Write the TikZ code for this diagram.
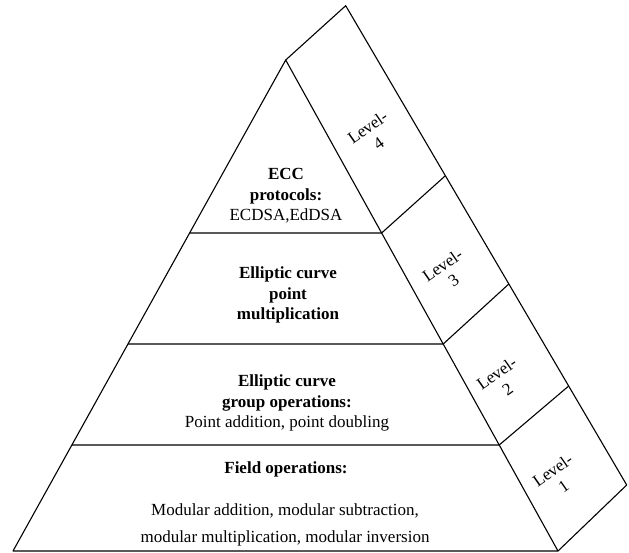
\documentclass[tikz,border=0pt]{standalone}
\usepackage{fontspec}
\setmainfont{Liberation Serif}
\usetikzlibrary{calc}

\begin{document}
\begin{tikzpicture}[
    x=1pt, y=-1pt,
    edge/.style={draw, line width=1.1pt, line join=round},
    tiertext/.style={align=center, inner sep=0pt, font=\fontsize{17}{20.5}\selectfont},
    levellabel/.style={align=center, inner sep=0pt, rotate=35, font=\fontsize{17}{19}\selectfont},
]

\useasboundingbox (0,0) rectangle (629,552);

% pyramid and side band
\coordinate (apex) at (285.7,60);
\coordinate (left) at (13,551);
\coordinate (right) at (558,551);
\coordinate (top) at (345.7,5.7);
\coordinate (outer) at (626.7,485);

\coordinate (l4) at ($(apex)!0.3523!(left)$);
\coordinate (r4) at ($(apex)!0.3523!(right)$);
\coordinate (o4) at ($(top)!0.3547!(outer)$);
\coordinate (l3) at ($(apex)!0.5784!(left)$);
\coordinate (r3) at ($(apex)!0.5784!(right)$);
\coordinate (o3) at ($(top)!0.5806!(outer)$);
\coordinate (l2) at ($(apex)!0.7841!(left)$);
\coordinate (r2) at ($(apex)!0.7841!(right)$);
\coordinate (o2) at ($(top)!0.7935!(outer)$);

\draw[edge] (left) -- (apex) -- (right) -- cycle;
\draw[edge] (apex) -- (top) -- (outer) -- (right);
\draw[edge] (l4) -- (r4) -- (o4);
\draw[edge] (l3) -- (r3) -- (o3);
\draw[edge] (l2) -- (r2) -- (o2);

% tiers
\node[tiertext] (protocols) at (286,196) {\textbf{ECC}\\\textbf{protocols:}\\ECDSA,EdDSA};
\node[tiertext] (pointmult) at (288,295) {\textbf{Elliptic curve}\\\textbf{point}\\\textbf{multiplication}};
\node[tiertext] (groupops) at (287,403) {\textbf{Elliptic curve}\\\textbf{group operations:}\\Point addition, point doubling};
\node[tiertext, anchor=base] (fieldops) at (286,473) {\textbf{Field operations:}};
\node[tiertext, font=\fontsize{17}{26.7}\selectfont] (modops) at (285,525) {Modular addition, modular subtraction,\\modular multiplication, modular inversion};

% levels
\node[levellabel] (level4) at (373,135) {Level-\\4};
\node[levellabel] (level3) at (448,273) {Level-\\3};
\node[levellabel] (level2) at (502,381) {Level-\\2};
\node[levellabel] (level1) at (558,478) {Level-\\1};

\end{tikzpicture}
\end{document}
